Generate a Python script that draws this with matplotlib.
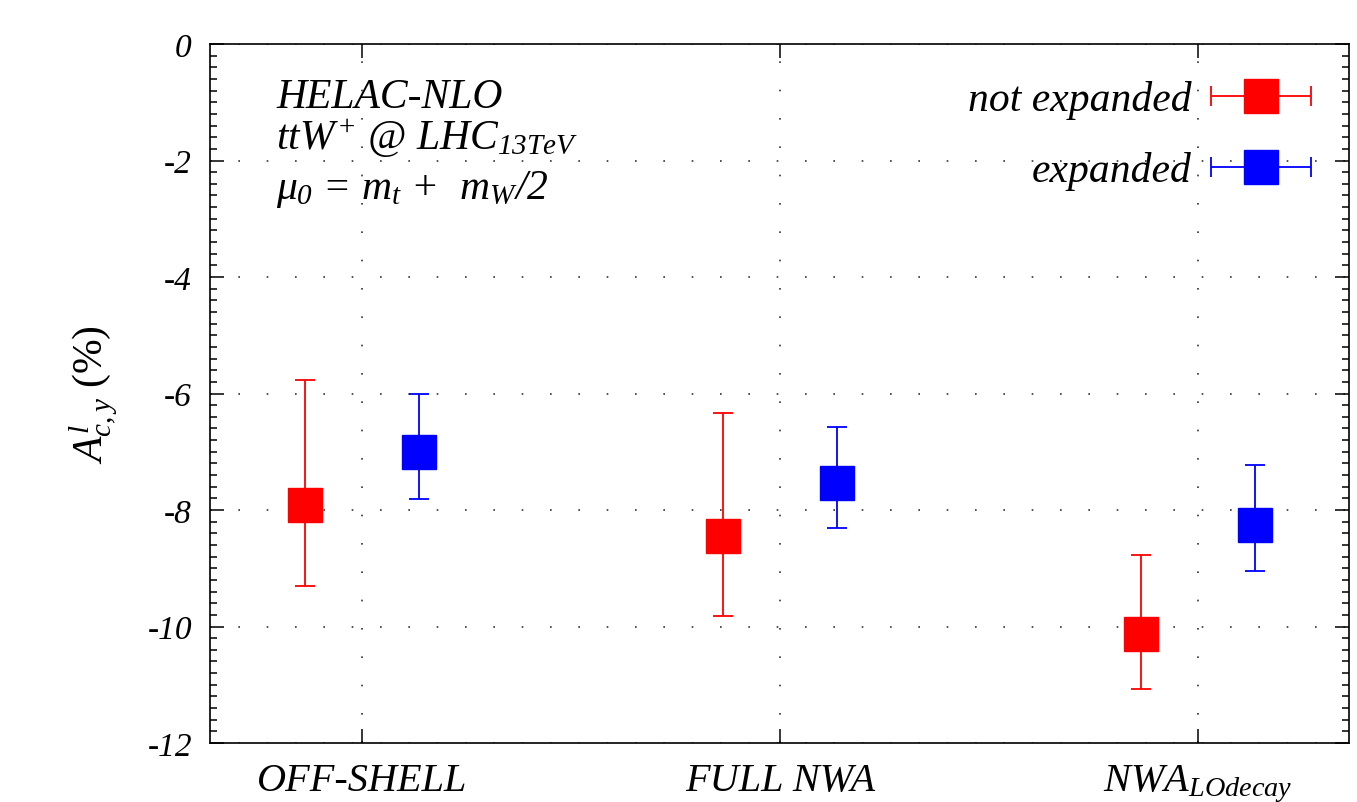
import numpy as np
import matplotlib
matplotlib.use("Agg")
import matplotlib.pyplot as plt
from matplotlib.ticker import MultipleLocator
from matplotlib.legend_handler import HandlerErrorbar

plt.rcParams['font.family'] = ['Liberation Serif', 'DejaVu Serif']
plt.rcParams['mathtext.fontset'] = 'custom'
plt.rcParams['mathtext.it'] = 'Liberation Serif:italic'
plt.rcParams['mathtext.rm'] = 'Liberation Serif:italic'
plt.rcParams['mathtext.bf'] = 'Liberation Serif:bold:italic'
plt.rcParams['axes.unicode_minus'] = False

# data
categories = ["OFF-SHELL", "FULL NWA", r"NWA$_{LOdecay}$"]
not_exp_val = [-7.92, -8.45, -10.13]
not_exp_up = [-5.76, -6.34, -8.77]
not_exp_dn = [-9.31, -9.82, -11.08]
exp_val = [-7.01, -7.54, -8.25]
exp_up = [-6.00, -6.58, -7.23]
exp_dn = [-7.81, -8.31, -9.04]

pos = np.arange(1, len(categories) + 1)
shift = 0.137

fig = plt.figure(figsize=(13.57, 8.03), dpi=100)
ax = fig.add_axes([210 / 1357, 59 / 803, 1139 / 1357, 699 / 803])

def draw(xs, val, up, dn, color, label):
    val = np.array(val)
    err = [val - np.array(dn), np.array(up) - val]
    ax.errorbar(xs, val, yerr=err, fmt='s', color=color, ms=24, mec=color,
                elinewidth=1.3, capsize=7, capthick=1.3, zorder=3)
    # legend proxy with horizontal bar
    h = ax.errorbar([np.nan], [np.nan], xerr=[1.0], fmt='s', color=color, ms=24,
                    mec=color, elinewidth=1.3, capsize=7, capthick=1.3, label=label)
    return h

h1 = draw(pos - shift, not_exp_val, not_exp_up, not_exp_dn, '#ff0000', 'not expanded')
h2 = draw(pos + shift, exp_val, exp_up, exp_dn, '#0000ff', 'expanded')

ax.set_xlim(1 - 152 / 418, 3 + 151 / 418)
ax.set_ylim(-12, 0)
ax.set_xticks(pos)
ax.set_xticklabels(categories, fontsize=29, style='italic')
ax.yaxis.set_major_locator(MultipleLocator(2))
ax.yaxis.set_minor_locator(MultipleLocator(0.2))
for lab in ax.get_yticklabels():
    lab.set_fontstyle('italic')
ax.tick_params(axis='y', labelsize=24, pad=13)
ax.tick_params(axis='x', pad=14)
ax.tick_params(which='major', direction='in', length=10, width=1.1, top=True, right=True)
ax.tick_params(which='minor', direction='in', length=5, width=1.1, top=True, right=True)
ax.tick_params(axis='x', which='minor', top=False, bottom=False)
for s in ax.spines.values():
    s.set_linewidth(1.2)

ax.grid(True, which='major', color='#333333', linestyle=(0, (1, 16)), linewidth=1.2)

ax.set_ylabel(r"$A^{l}_{c,y}$ (%)", fontsize=30, labelpad=20)

ax.text(0.058, 0.91, "HELAC-NLO", transform=ax.transAxes, fontsize=30, style='italic')
ax.text(0.058, 0.85, r"$ttW^{+}$ @ $LHC_{13TeV}$", transform=ax.transAxes, fontsize=30, style='italic')
ax.text(0.058, 0.78, r"$\mu_0$ = $m_t$ +  $m_W$/2", transform=ax.transAxes, fontsize=30, style='italic')

leg = ax.legend(handles=[h1, h2], loc='upper right', frameon=False, markerfirst=False,
                fontsize=30, handlelength=2.4, handletextpad=0.45, labelspacing=0.77,
                borderaxespad=0.0, bbox_to_anchor=(0.981, 0.972),
                handler_map={type(h1): HandlerErrorbar(xerr_size=1.2)})
for t in leg.get_texts():
    t.set_fontstyle('italic')

fig.savefig("out.png", dpi=100)
